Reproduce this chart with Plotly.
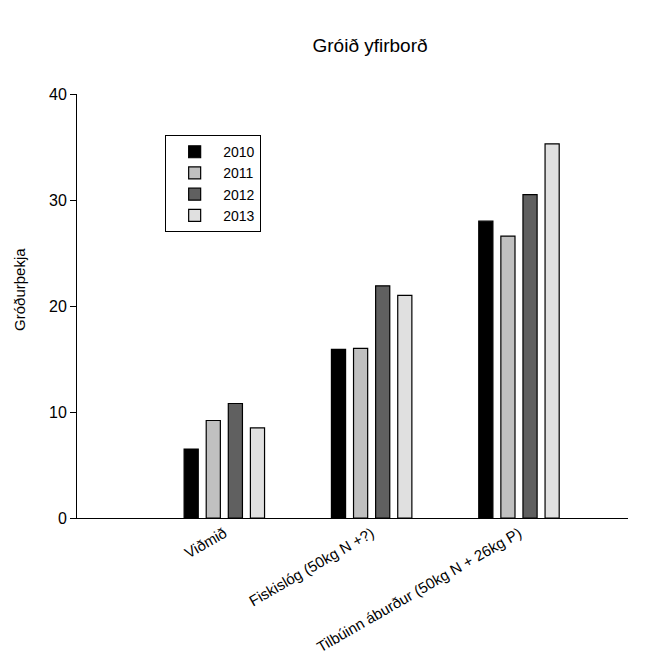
import plotly.graph_objects as go

categories = ["Viðmið", "Fiskislóg (50kg N +?)", "Tilbúinn áburður (50kg N + 26kg P)"]
years = ["2010", "2011", "2012", "2013"]
values = {
    "2010": [6.5, 15.9, 28.0],
    "2011": [9.2, 16.0, 26.6],
    "2012": [10.8, 21.9, 30.5],
    "2013": [8.5, 21.0, 35.3],
}
colors = {"2010": "#000000", "2011": "#c0c0c0", "2012": "#606060", "2013": "#e0e0e0"}

fig = go.Figure()
for y in years:
    fig.add_trace(go.Bar(
        x=categories, y=values[y], name=y,
        marker=dict(color=colors[y], line=dict(color="#000000", width=1.2)),
    ))

font_family = "Liberation Sans, Arial, sans-serif"
fig.update_layout(
    width=650, height=654,
    paper_bgcolor="white", plot_bgcolor="white",
    margin=dict(l=69, r=30, t=86, b=144),
    barmode="group", bargap=0.40, bargroupgap=0.36,
    font=dict(family=font_family, size=15, color="#000000"),
    title=dict(text="Gróið yfirborð", x=0.557, xanchor="center", y=0.943, yanchor="middle",
               font=dict(size=19, family=font_family)),
    showlegend=True,
    legend=dict(x=0.16, y=0.903, xanchor="left", yanchor="top",
                bordercolor="#000000", borderwidth=1, bgcolor="white",
                font=dict(size=14), itemwidth=47),
    xaxis=dict(range=[-1.0, 2.74], showline=True, linecolor="#000000", linewidth=1,
               ticks="", tickangle=-30, showgrid=False, zeroline=False,
               tickfont=dict(size=15), automargin=False),
    yaxis=dict(range=[0, 40], showline=True, linecolor="#000000", linewidth=1,
               ticks="outside", ticklen=6, tickcolor="#000000", dtick=10,
               showgrid=False, zeroline=False, tickfont=dict(size=16), automargin=False),
    annotations=[dict(text="Gróðurþekja", textangle=-90, xref="paper", yref="paper",
                      x=-0.1034, y=0.538, xanchor="center", yanchor="middle",
                      showarrow=False, font=dict(size=15))],
)
fig.write_html("out.html")
